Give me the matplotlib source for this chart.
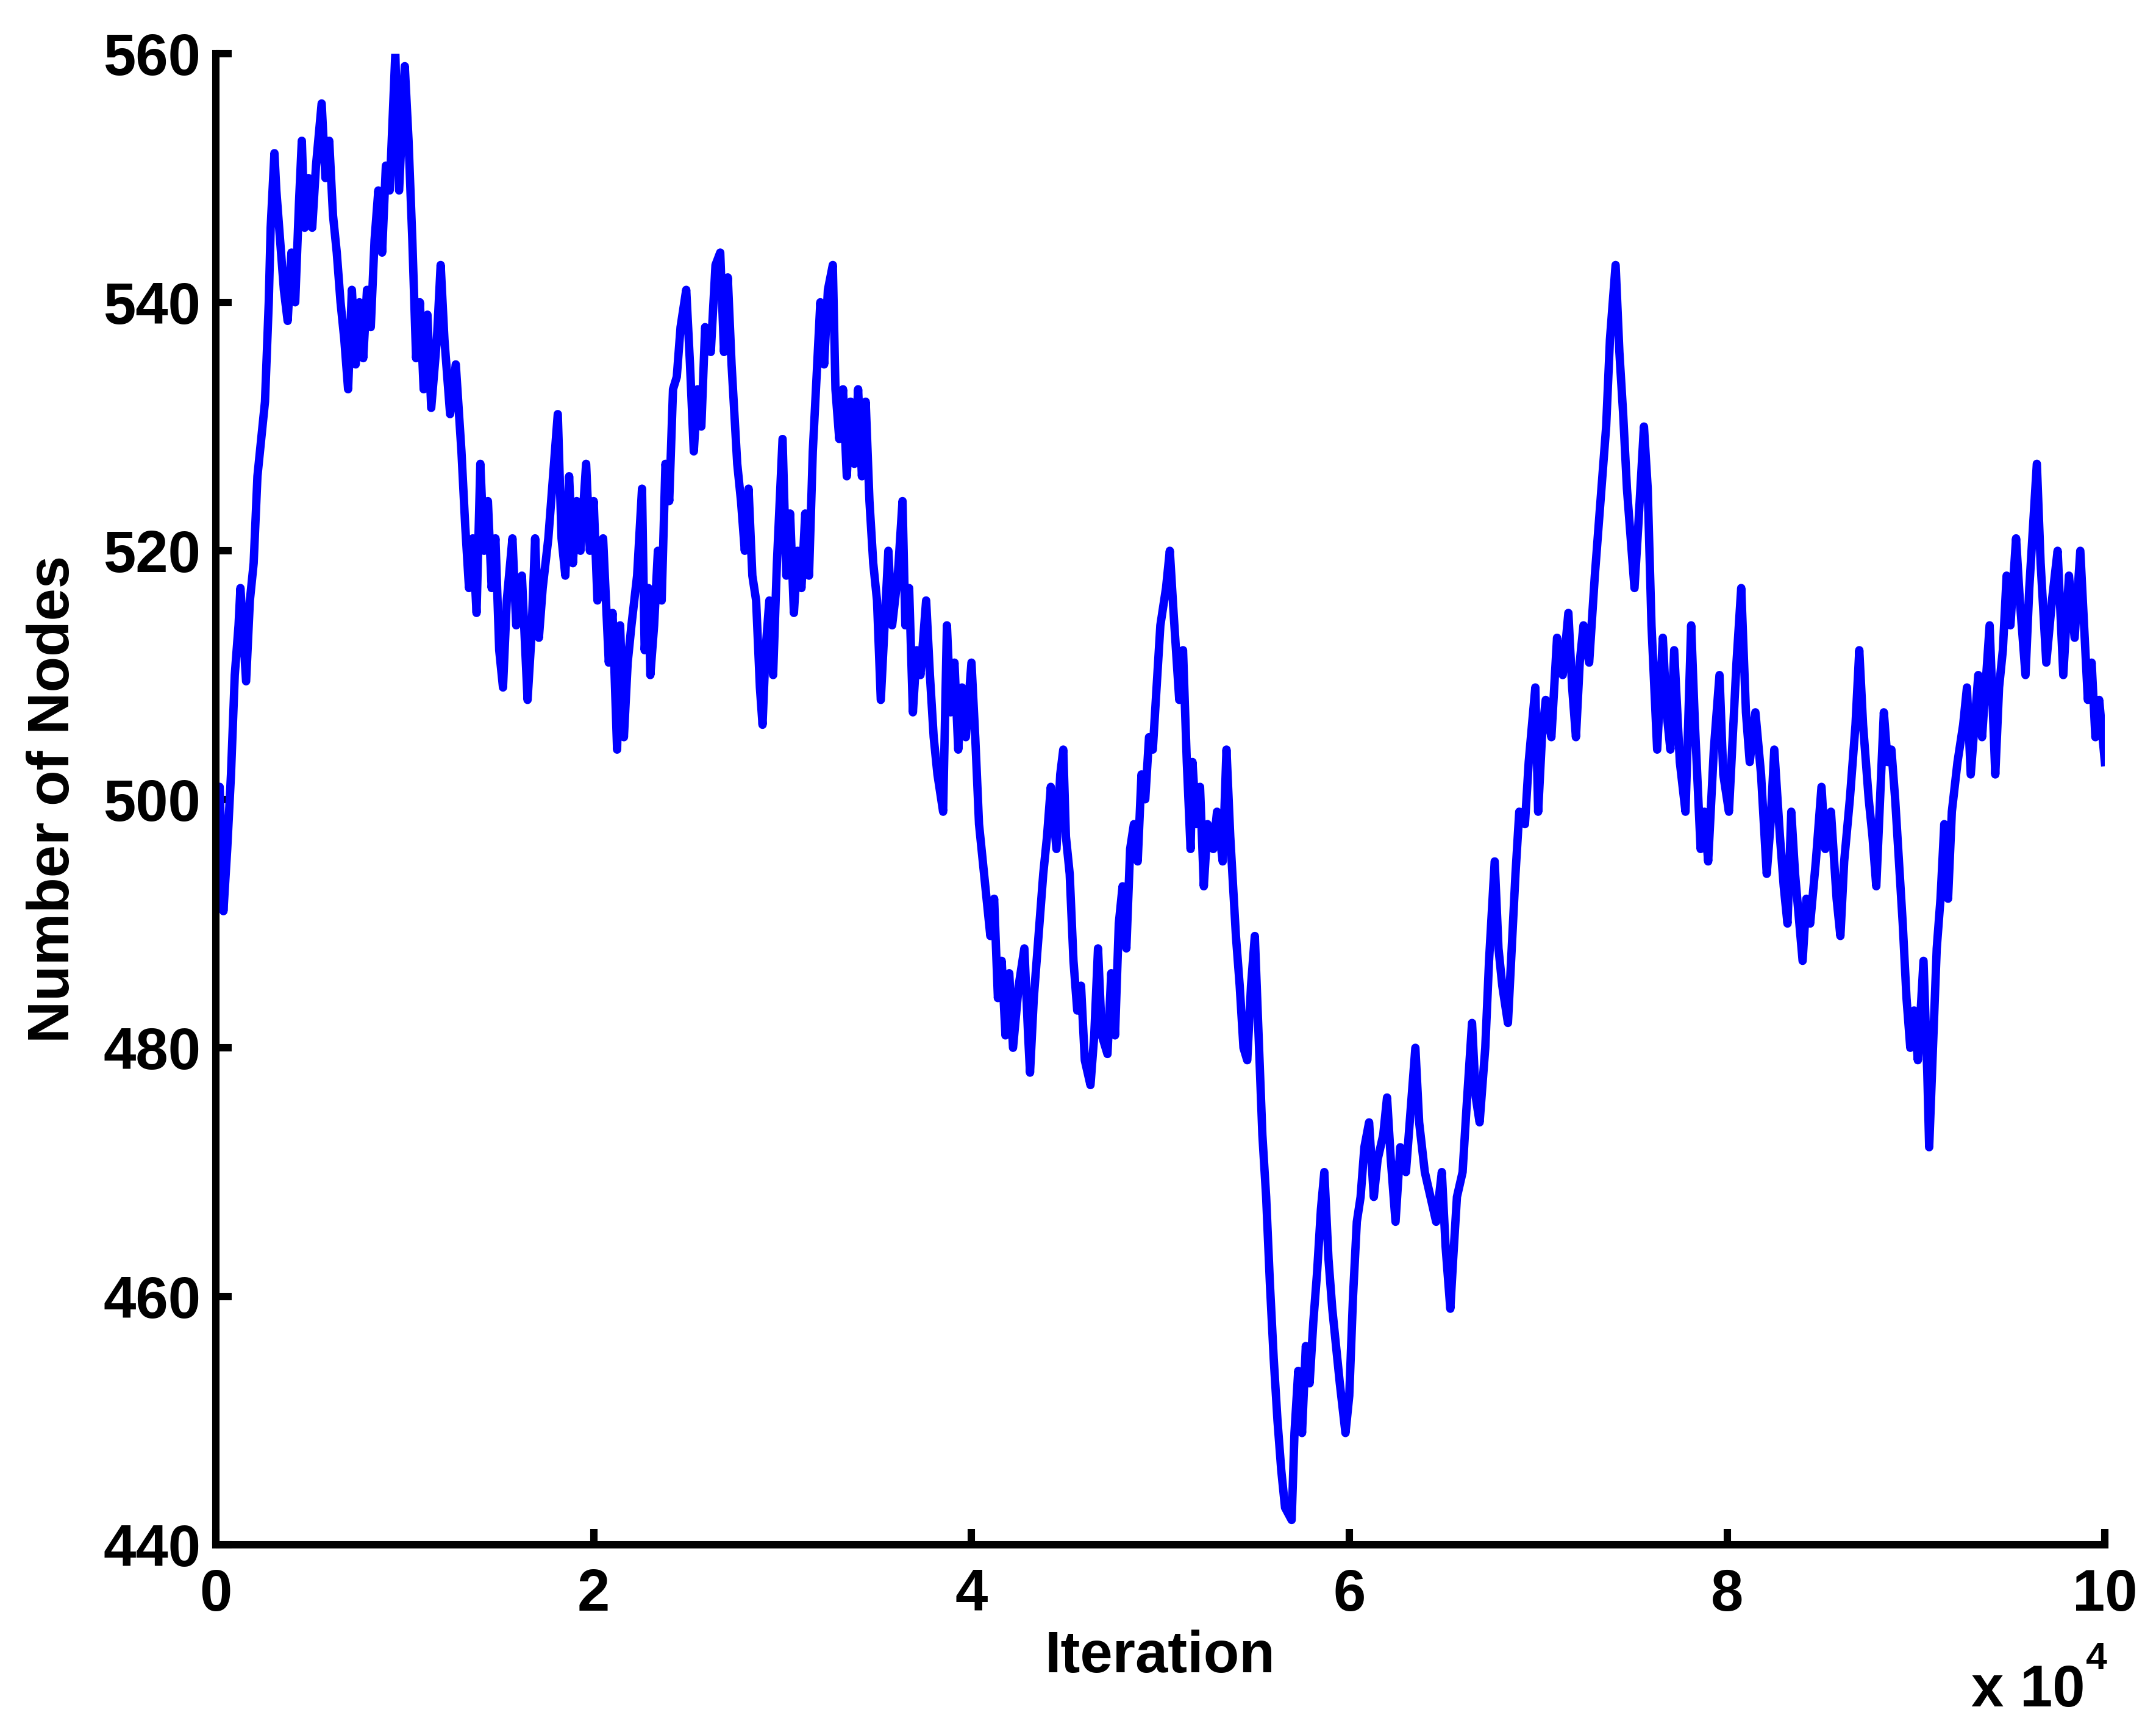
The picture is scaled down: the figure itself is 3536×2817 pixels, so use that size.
import numpy as np
import matplotlib.pyplot as plt

plt.rcParams["font.family"] = ["Liberation Sans", "DejaVu Sans"]
plt.rcParams["font.weight"] = "bold"

# iteration (in units of 1e4) and number of nodes
iters_1e4 = [
    0.00, 0.02, 0.04, 0.06, 0.08, 0.10, 0.12, 0.13, 0.15, 0.16, 0.18, 0.20, 0.22, 0.24, 0.26, 0.28,
    0.29, 0.31, 0.32, 0.34, 0.36, 0.38, 0.40, 0.42, 0.44, 0.455, 0.47, 0.49, 0.51, 0.53, 0.56, 0.58,
    0.60, 0.62, 0.64, 0.66, 0.68, 0.70, 0.72, 0.74, 0.76, 0.78, 0.80, 0.82, 0.84, 0.86, 0.88, 0.90,
    0.92, 0.95, 0.97, 1.00, 1.02, 1.04, 1.06, 1.08, 1.10, 1.12, 1.14, 1.17, 1.19, 1.21, 1.24, 1.27,
    1.30, 1.32, 1.34, 1.36, 1.38, 1.40, 1.42, 1.44, 1.46, 1.48, 1.50, 1.52, 1.54, 1.57, 1.59, 1.62,
    1.65, 1.67, 1.69, 1.71, 1.73, 1.76, 1.79, 1.81, 1.83, 1.85, 1.87, 1.89, 1.91, 1.93, 1.96, 1.98,
    2.00, 2.02, 2.05, 2.08, 2.10, 2.124, 2.14, 2.16, 2.18, 2.20, 2.23, 2.256, 2.27, 2.29, 2.30, 2.32,
    2.34, 2.36, 2.38, 2.40, 2.42, 2.44, 2.46, 2.49, 2.51, 2.53, 2.55, 2.57, 2.59, 2.62, 2.645, 2.67,
    2.69, 2.71, 2.73, 2.76, 2.78, 2.80, 2.82, 2.84, 2.86, 2.88, 2.894, 2.91, 2.93, 2.95, 2.97, 3.00,
    3.02, 3.04, 3.06, 3.08, 3.10, 3.12, 3.14, 3.16, 3.18, 3.20, 3.22, 3.24, 3.266, 3.28, 3.30, 3.32,
    3.34, 3.36, 3.38, 3.40, 3.42, 3.44, 3.46, 3.48, 3.50, 3.52, 3.54, 3.56, 3.58, 3.61, 3.635, 3.65,
    3.67, 3.69, 3.71, 3.73, 3.76, 3.78, 3.80, 3.82, 3.85, 3.87, 3.89, 3.91, 3.93, 3.95, 3.97, 4.00,
    4.02, 4.04, 4.06, 4.08, 4.10, 4.12, 4.14, 4.16, 4.18, 4.20, 4.22, 4.25, 4.28, 4.30, 4.31, 4.33,
    4.36, 4.38, 4.40, 4.42, 4.45, 4.47, 4.486, 4.50, 4.52, 4.54, 4.56, 4.58, 4.60, 4.63, 4.65, 4.67,
    4.69, 4.72, 4.74, 4.76, 4.78, 4.80, 4.82, 4.84, 4.86, 4.88, 4.90, 4.92, 4.94, 4.96, 4.98, 5.00,
    5.03, 5.05, 5.07, 5.10, 5.12, 5.14, 5.16, 5.17, 5.19, 5.21, 5.23, 5.25, 5.28, 5.30, 5.33, 5.35,
    5.37, 5.40, 5.42, 5.44, 5.46, 5.48, 5.50, 5.52, 5.54, 5.56, 5.58, 5.60, 5.62, 5.64, 5.66, 5.695,
    5.71, 5.73, 5.75, 5.77, 5.79, 5.81, 5.83, 5.85, 5.868, 5.89, 5.91, 5.93, 5.95, 5.98, 6.00, 6.02,
    6.04, 6.06, 6.08, 6.105, 6.13, 6.15, 6.18, 6.20, 6.22, 6.245, 6.27, 6.30, 6.33, 6.35, 6.37, 6.40,
    6.43, 6.46, 6.49, 6.51, 6.535, 6.55, 6.57, 6.60, 6.62, 6.65, 6.67, 6.69, 6.72, 6.74, 6.77, 6.79,
    6.81, 6.84, 6.86, 6.88, 6.90, 6.93, 6.95, 6.985, 7.00, 7.02, 7.04, 7.07, 7.10, 7.13, 7.16, 7.18,
    7.20, 7.22, 7.24, 7.27, 7.30, 7.33, 7.36, 7.38, 7.41, 7.43, 7.45, 7.47, 7.49, 7.51, 7.53, 7.56,
    7.58, 7.60, 7.63, 7.66, 7.68, 7.70, 7.72, 7.75, 7.78, 7.81, 7.83, 7.86, 7.88, 7.90, 7.93, 7.96,
    7.98, 8.01, 8.03, 8.05, 8.075, 8.10, 8.12, 8.15, 8.18, 8.21, 8.23, 8.25, 8.28, 8.30, 8.32, 8.34,
    8.36, 8.40, 8.42, 8.44, 8.47, 8.50, 8.52, 8.55, 8.58, 8.60, 8.62, 8.65, 8.68, 8.70, 8.72, 8.75,
    8.77, 8.79, 8.81, 8.83, 8.85, 8.87, 8.89, 8.91, 8.93, 8.95, 8.97, 8.99, 9.01, 9.04, 9.06, 9.07,
    9.09, 9.11, 9.13, 9.15, 9.17, 9.19, 9.22, 9.25, 9.27, 9.29, 9.31, 9.33, 9.35, 9.39, 9.42, 9.44,
    9.46, 9.48, 9.50, 9.53, 9.55, 9.58, 9.60, 9.62, 9.64, 9.66, 9.69, 9.72, 9.75, 9.78, 9.81, 9.84,
    9.87, 9.89, 9.91, 9.93, 9.95, 9.97, 10.00,
]
nodes = [
    499, 501, 491, 496, 502, 510, 514, 517, 512, 509.5, 516, 519, 526, 529, 532, 540,
    546, 552, 549, 545, 541, 538.5, 544, 540, 548, 553, 546, 550, 546, 551, 556, 550,
    553, 547, 544, 540, 537, 533, 541, 535, 540, 535.5, 541, 538, 545, 549, 544, 551,
    549, 560, 549, 559, 553, 545, 535.5, 540, 533, 539, 531.5, 537, 543, 537, 531, 535,
    528, 522, 517, 521, 515, 527, 520, 524, 517, 521, 512, 509, 516, 521, 514, 518,
    508, 513, 521, 513, 517, 521, 527, 531, 521, 518, 526, 519, 524, 520, 527, 520,
    524, 516, 521, 511, 515, 504, 514, 505, 511, 514, 518, 525, 512, 517, 510, 514,
    520, 516, 527, 524, 533, 534, 538, 541, 535, 528, 533, 530, 538, 536, 543, 544,
    536, 542, 535, 527, 524, 520, 525, 518, 516, 509, 506, 512, 516, 510, 519, 529,
    518, 523, 515, 520, 517, 523, 518, 528, 534, 540, 535, 541, 543, 533, 529, 533,
    526, 532, 527, 533, 526, 532, 524, 519, 516, 508, 514, 520, 514, 518, 524, 514,
    517, 507, 512, 510, 516, 510, 505, 502, 499, 514, 507, 511, 504, 509, 505, 511,
    505, 498, 495, 492, 489, 492, 484, 487, 481, 486, 480, 485, 488, 481, 478, 484,
    490, 494, 497, 501, 496, 502, 504, 497, 494, 487, 483, 485, 479, 477, 481, 488,
    481, 479.5, 486, 481, 490, 493, 488, 496, 498, 495, 502, 500, 505, 504, 509, 514,
    517, 520, 515, 508, 512, 503, 496, 503, 498, 501, 493, 498, 496, 499, 495, 504,
    497, 489, 485, 480, 479, 485, 489, 481, 473, 468, 461, 455, 450, 446, 443, 442,
    449, 454, 449, 456, 453, 458, 462, 467, 470, 463, 459, 456, 453, 449, 452, 460,
    466, 468, 472, 474, 468, 471, 473, 476, 471, 466, 472, 470, 476, 480, 474, 470,
    468, 466, 470, 464, 459, 463, 468, 470, 475, 482, 476, 474, 480, 487, 495, 488,
    485, 482, 488, 494, 499, 498, 503, 509, 499, 505, 508, 505, 513, 510, 515, 509,
    505, 511, 514, 511, 518, 524, 530, 537, 543, 536, 531, 525, 521, 517, 522, 530,
    525, 514, 504, 513, 507, 504, 512, 503, 499, 514, 506, 496, 499, 495, 504, 510,
    502, 499, 505, 511, 517, 507, 503, 507, 502, 494, 498, 504, 497, 493, 490, 499,
    494, 487, 492, 490, 495, 501, 496, 499, 492, 489, 495, 500, 506, 512, 506, 500,
    497, 493, 500, 507, 503, 504, 500, 495, 490, 484, 480, 483, 479, 487, 478, 472,
    480, 488, 492, 498, 492, 499, 503, 506, 509, 502, 506, 510, 505, 514, 502, 509,
    512, 518, 514, 521, 516, 510, 517, 522, 527, 519, 511, 516, 520, 510, 518, 513,
    520, 514, 508, 511, 505, 508, 503,
]

x_ticks = [0, 2, 4, 6, 8, 10]
y_ticks = [440, 460, 480, 500, 520, 540, 560]

iters = np.array(iters_1e4) * 1e4

fig = plt.figure(figsize=(3537 / 300, 2817 / 300), dpi=300)
ax = fig.add_axes([0.1001, 0.1008, 0.8759, 0.8679])

ax.plot(iters, nodes, color="#0000ff", lw=3.3, solid_joinstyle="round")

ax.set_xlim(0, 100000)
ax.set_ylim(440, 560)
ax.set_xticks([t * 1e4 for t in x_ticks])
ax.set_xticklabels([str(t) for t in x_ticks])
ax.set_yticks(y_ticks)

for side in ["top", "right"]:
    ax.spines[side].set_visible(False)
for side in ["left", "bottom"]:
    ax.spines[side].set_linewidth(2.9)
ax.tick_params(direction="in", length=6.2, width=2.9, labelsize=23)
ax.tick_params(axis="x", pad=9)
ax.tick_params(axis="y", pad=6)

ax.set_xlabel("Iteration", fontsize=23, fontweight="bold")
ax.set_ylabel("Number of Nodes", fontsize=23, fontweight="bold")
ax.xaxis.set_label_coords(0.5, -0.057)
ax.yaxis.set_label_coords(-0.0715, 0.5)

fig.text(0.9669, 0.0067, "x 10", fontsize=23, fontweight="bold", ha="right", va="baseline")
fig.text(0.9672, 0.0284, "4", fontsize=15, fontweight="bold", ha="left", va="baseline")

fig.savefig("out.png", dpi=300)
